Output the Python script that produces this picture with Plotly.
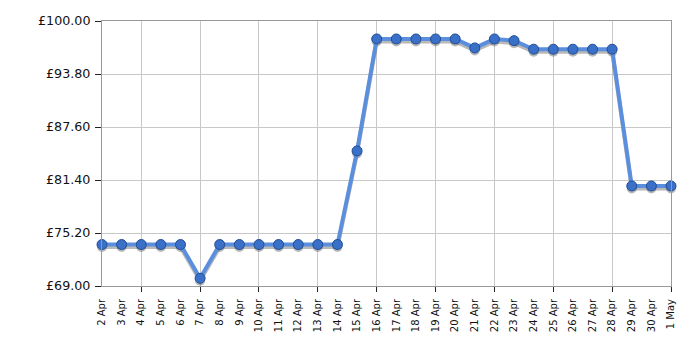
import plotly.graph_objects as go

dates = ["2 Apr", "3 Apr", "4 Apr", "5 Apr", "6 Apr", "7 Apr", "8 Apr", "9 Apr", "10 Apr",
         "11 Apr", "12 Apr", "13 Apr", "14 Apr", "15 Apr", "16 Apr", "17 Apr", "18 Apr",
         "19 Apr", "20 Apr", "21 Apr", "22 Apr", "23 Apr", "24 Apr", "25 Apr", "26 Apr",
         "27 Apr", "28 Apr", "29 Apr", "30 Apr", "1 May"]
prices = [73.85, 73.85, 73.85, 73.85, 73.85, 69.9, 73.85, 73.85, 73.85,
          73.85, 73.85, 73.85, 73.85, 84.8, 97.9, 97.9, 97.9,
          97.9, 97.9, 96.85, 97.9, 97.7, 96.7, 96.7, 96.7,
          96.7, 96.7, 80.7, 80.7, 80.7]
y_ticks = [69.0, 75.2, 81.4, 87.6, 93.8, 100.0]
y_tick_text = ["£69.00", "£75.20", "£81.40", "£87.60", "£93.80", "£100.00"]

idx = list(range(len(dates)))
grid_idx = idx[2::3]
n = len(dates)
ymin, ymax = 69.0, 100.0

# shadow offset in axis units (approx 2.5px down)
px_y = (ymax - ymin) / 265.0
dy = 2.5 * px_y

FONT = "DejaVu Sans, Verdana, sans-serif"

fig = go.Figure()
# invisible anchor trace on base subplot (grid + ticks + frame)
fig.add_trace(go.Scatter(x=[idx[0]], y=[prices[0]], xaxis="x", yaxis="y", mode="markers",
                         marker=dict(size=1, color="rgba(0,0,0,0)"), hoverinfo="skip",
                         showlegend=False))
# shadow (on a vertically shifted overlay axis)
fig.add_trace(go.Scatter(x=idx, y=prices, xaxis="x", yaxis="y2", mode="lines+markers",
                         line=dict(color="rgba(70,70,70,0.38)", width=4),
                         marker=dict(size=10, color="rgba(70,70,70,0.38)"),
                         hoverinfo="skip", cliponaxis=False, showlegend=False))
# main (on label axis, drawn on top)
fig.add_trace(go.Scatter(x=idx, y=prices, xaxis="x3", yaxis="y", mode="lines+markers",
                         line=dict(color="#5b8fde", width=4),
                         marker=dict(size=10, color="#3a70c8", line=dict(color="#1f4e96", width=1)),
                         cliponaxis=False, showlegend=False))

fig.update_layout(
    width=700, height=350,
    margin=dict(l=102, r=29, t=21, b=64),
    paper_bgcolor="white", plot_bgcolor="white",
    font=dict(family=FONT, color="#111", size=11),
    xaxis=dict(range=[0, n - 1], tickmode="array", tickvals=grid_idx, showticklabels=False,
               showgrid=True, gridcolor="#c8c8c8", gridwidth=1, zeroline=False,
               ticks="outside", ticklen=5, tickcolor="#222",
               showline=True, linecolor="#999", linewidth=1, mirror=True),
    xaxis3=dict(overlaying="x", anchor="y", side="bottom", range=[0, n - 1],
                tickmode="array", tickvals=idx, ticktext=dates, tickangle=-90,
                tickfont=dict(family=FONT, size=10, color="#111"),
                showgrid=False, zeroline=False, ticks="outside", ticklen=8,
                tickcolor="rgba(0,0,0,0)", showline=False),
    yaxis=dict(range=[ymin, ymax], tickmode="array", tickvals=y_ticks, ticktext=y_tick_text,
               showgrid=True, gridcolor="#c8c8c8", gridwidth=1, zeroline=False,
               ticks="outside", ticklen=6, tickcolor="#222", ticklabelstandoff=2,
               showline=True, linecolor="#999", linewidth=1, mirror=True,
               tickfont=dict(family=FONT, size=12.7, color="#111")),
    yaxis2=dict(overlaying="y", anchor="x", range=[ymin + dy, ymax + dy], visible=False),
)

fig.write_html("out.html")
